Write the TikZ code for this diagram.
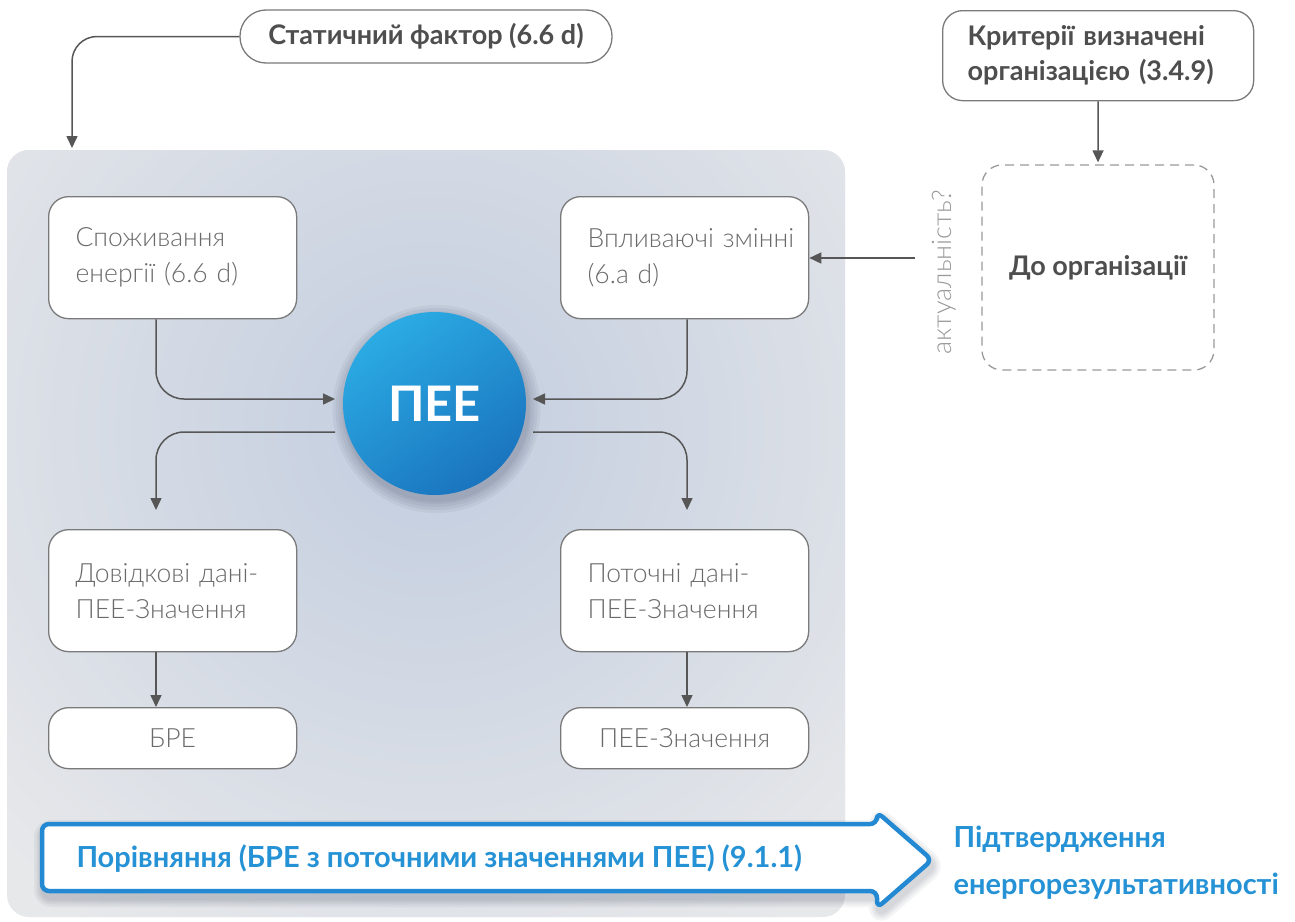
\documentclass[tikz,border=0pt]{standalone}
\usepackage{fontspec}
\setmainfont{Lato}
\newfontfamily\lightfont{Lato Light}
\usetikzlibrary{calc,arrows.meta}

\definecolor{txt}{HTML}{4E4E4E}
\definecolor{lighttxt}{HTML}{6A6A6A}
\definecolor{edge}{HTML}{7A7A7A}
\definecolor{arr}{HTML}{565656}
\definecolor{panel}{HTML}{E7E8EA}
\definecolor{glow}{HTML}{C2CDDF}
\definecolor{blueA}{HTML}{2BABE4}
\definecolor{blueB}{HTML}{1A74BE}
\definecolor{blueline}{HTML}{2389D2}
\definecolor{bluetxt}{HTML}{2692D6}
\definecolor{dashc}{HTML}{9A9A9A}
\definecolor{shadowc}{HTML}{1E2A40}

\tikzset{
  conn/.style={draw=arr, line width=1.5, -{Triangle[width=11,length=12]}},
  lightbox/.style={draw=edge, line width=1.3, fill=white, rounded corners=20,
    font=\lightfont\fontsize{26.5}{36}\selectfont, text=lighttxt,
    inner xsep=27, inner ysep=0, text width=194, minimum height=122,
    align=left, anchor=north west},
  smallbox/.style={lightbox, align=center, minimum height=61},
  boldbox/.style={draw=edge, line width=1.3, fill=white,
    font=\bfseries\fontsize{27}{35}\selectfont, text=txt},
  bluelabel/.style={font=\bfseries\fontsize{29}{47}\selectfont, text=bluetxt},
}

\begin{document}
\begin{tikzpicture}[x=1pt,y=-1pt]
\useasboundingbox (0,0) rectangle (1295,921);

% grey panel with a soft bluish glow around the centre
\fill[panel, rounded corners=22] (7,150) rectangle (845,917);
\begin{scope}
  \clip[rounded corners=22] (7,150) rectangle (845,917);
  \shade[inner color=glow, outer color=panel] (430,430) circle (600);
\end{scope}

% top labels
\node[boldbox, rounded corners=26, minimum width=372, minimum height=53,
      inner xsep=0] (stat) at (426,36.5) {Статичний фактор (6.6 d)};
\node[boldbox, rounded corners=20, anchor=north west, minimum height=90,
      text width=261, inner xsep=25, inner ysep=0, align=left]
      (crit) at (942,10) {Критерії визначені\\організацією (3.4.9)};

% context box
\node[draw=dashc, line width=1.3, dash pattern=on 9 off 6, rounded corners=20,
      minimum width=232, minimum height=205, font=\bfseries\fontsize{27}{35}\selectfont,
      text=txt] (org) at (1098,267.5) {До організації};
\node[rotate=90, font=\lightfont\fontsize{27}{30}\selectfont, text=dashc]
      (rel) at (944,272) {актуальність?};

% inner boxes
\node[lightbox] (cons) at (48,196) {Споживання\\енергії (6.6 d)};
\node[lightbox] (infl) at (560,196) {Впливаючі~змінні\\(6.a d)};
\node[lightbox] (ref) at (48,529) {Довідкові дані-\\ПЕЕ-Значення};
\node[lightbox] (cur) at (560,529) {Поточні дані-\\ПЕЕ-Значення};
\node[smallbox] (bre) at (48,707) {БРЕ};
\node[smallbox] (val) at (560,707) {ПЕЕ-Значення};

% central indicator with a soft drop shadow
\foreach \r in {104,101,98,95,93}
  \fill[shadowc, opacity=0.05] (436.5,409) circle (\r);
\path[top color=blueA, bottom color=blueB, shading angle=35]
      (434.5,403.5) circle (91.5);
\node[circle, minimum size=183, inner sep=0, text=white,
      font=\bfseries\fontsize{49}{49}\selectfont] (pee) at (434.5,403.5) {ПЕЕ};

% connector end points
\coordinate (topin) at (72,148);
\coordinate (relout) at (915,258);
\coordinate (c1) at ($(cons.south west)+(108,0)$);
\coordinate (i1) at ($(infl.south west)+(127,0)$);
\coordinate (inL) at ($(pee.center)+(-99.5,-4.5)$);
\coordinate (inR) at ($(pee.center)+(98.5,-4.5)$);
\coordinate (outL) at ($(pee.center)+(-99.5,28.5)$);
\coordinate (outR) at ($(pee.center)+(98.5,28.5)$);
\coordinate (r1) at ($(ref.north west)+(108,-19)$);
\coordinate (p1) at ($(cur.north west)+(127,-19)$);
\coordinate (r2) at ($(ref.south west)+(108,0)$);
\coordinate (p2) at ($(cur.south west)+(127,0)$);

% connectors
\draw[conn, rounded corners=25] (stat.west) -| (topin);
\draw[conn, shorten >=2] (crit.south) -- (org.north);
\draw[conn] (relout) -- (infl.east |- relout);
\draw[conn, rounded corners=28] (c1) |- (inL);
\draw[conn, rounded corners=28] (i1) |- (inR);
\draw[conn, rounded corners=28] (outL) -| (r1);
\draw[conn, rounded corners=28] (outR) -| (p1);
\draw[conn] (r2) -- (r2 |- bre.north);
\draw[conn] (p2) -- (p2 |- val.north);

% comparison arrow, its soft shadow first
\foreach \w in {20,15,11,7}
  \draw[shadowc, opacity=0.05, line width=\w, rounded corners=7, line join=round]
    (44,830) -- (879,830) -- (879,818) -- (934,866) -- (879,914) -- (879,897)
    -- (44,897) -- cycle;
\draw[line width=4.5, draw=blueline, fill=white, rounded corners=7, line join=round]
  (42,824) -- (877,824) -- (877,812) -- (932,860) -- (877,908) -- (877,891)
  -- (42,891) -- cycle;
\node[bluelabel, anchor=west] (cmp) at (73,859)
  {Порівняння (БРЕ з поточними значеннями ПЕЕ) (9.1.1)};
\node[bluelabel, anchor=west, align=left] (conf) at (950,863)
  {Підтвердження\\енергорезультативності};
\end{tikzpicture}
\end{document}
